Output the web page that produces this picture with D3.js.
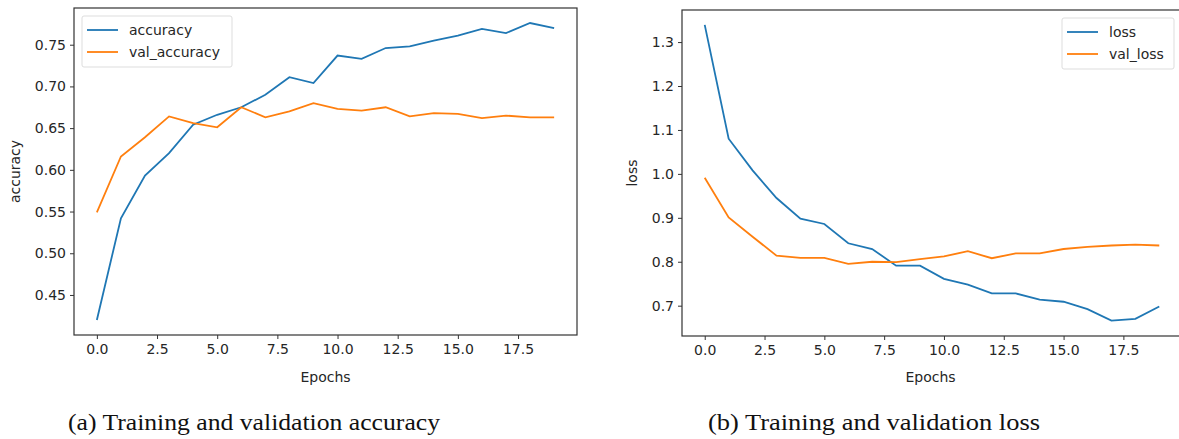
<!DOCTYPE html>
<html>
<head>
<meta charset="utf-8">
<script src="https://cdn.jsdelivr.net/npm/d3@7"></script>
<style>
  body { margin: 0; background: #fff; }
  .tick text { font-family: "DejaVu Sans", sans-serif; font-size: 14px; fill: #262626; }
  .lbl { font-family: "DejaVu Sans", sans-serif; font-size: 14px; fill: #262626; }
  .cap { font-family: "Liberation Serif", "DejaVu Serif", serif; font-size: 24px; fill: #111; }
</style>
</head>
<body>
<div class="container"></div>
<script>
// chart values
var epochs = [0, 1, 2, 3, 4, 5, 6, 7, 8, 9, 10, 11, 12, 13, 14, 15, 16, 17, 18, 19];
var accuracy = [0.420, 0.542, 0.593, 0.620, 0.654, 0.666, 0.675, 0.690, 0.711, 0.704,
                0.737, 0.733, 0.746, 0.748, 0.755, 0.761, 0.769, 0.764, 0.776, 0.770];
var valAccuracy = [0.549, 0.616, 0.639, 0.664, 0.656, 0.651, 0.675, 0.663, 0.670, 0.680,
                   0.673, 0.671, 0.675, 0.664, 0.668, 0.667, 0.662, 0.665, 0.663, 0.663];
var loss = [1.339, 1.080, 1.008, 0.945, 0.898, 0.886, 0.842, 0.829, 0.791, 0.791,
            0.761, 0.748, 0.728, 0.728, 0.714, 0.709, 0.692, 0.666, 0.670, 0.698];
var valLoss = [0.991, 0.901, 0.857, 0.814, 0.809, 0.809, 0.795, 0.800, 0.799, 0.806,
               0.812, 0.824, 0.808, 0.819, 0.819, 0.829, 0.834, 0.837, 0.839, 0.837];

var xTicks = [0, 2.5, 5, 7.5, 10, 12.5, 15, 17.5];
var accTicks = [0.45, 0.50, 0.55, 0.60, 0.65, 0.70, 0.75];
var lossTicks = [0.7, 0.8, 0.9, 1.0, 1.1, 1.2, 1.3];
var accNames = ['accuracy', 'val_accuracy'];
var lossNames = ['loss', 'val_loss'];
var captions = ['(a) Training and validation accuracy', '(b) Training and validation loss'];

const WIDTH = 1179;
const HEIGHT = 439;
const BLUE = '#1f77b4';
const ORANGE = '#ff7f0e';

var translate = function (x, y) {
  return "translate(" + x + "," + y + ")";
};

var _svg;

var drawPanel = function (cfg) {
  var xScale = d3.scaleLinear().domain([-0.95, 19.95]).range([cfg.left, cfg.right]);
  var yScale = d3.scaleLinear().domain(cfg.yDomain).range([cfg.bottom, cfg.top]);

  var line = d3.line()
    .x(function (d, i) { return xScale(epochs[i]); })
    .y(function (d) { return yScale(d); });

  var g = _svg.append('g');

  // frame
  g.append('rect')
    .attr('x', cfg.left).attr('y', cfg.top)
    .attr('width', cfg.right - cfg.left).attr('height', cfg.bottom - cfg.top)
    .attr('fill', 'none').attr('stroke', '#333').attr('stroke-width', 1.2);

  var xAxis = d3.axisBottom(xScale).tickValues(xTicks).tickSize(4).tickPadding(5)
    .tickFormat(d3.format('.1f'));
  var yAxis = d3.axisLeft(yScale).tickValues(cfg.yTicks).tickSize(4).tickPadding(4)
    .tickFormat(cfg.yFormat);

  g.append('g').attr('transform', translate(0, cfg.bottom)).call(xAxis)
    .call(function (a) { a.select('.domain').remove(); a.selectAll('line').attr('stroke', '#333'); });
  g.append('g').attr('transform', translate(cfg.left, 0)).call(yAxis)
    .call(function (a) { a.select('.domain').remove(); a.selectAll('line').attr('stroke', '#333'); });

  g.append('path').attr('d', line(cfg.series[0]))
    .attr('fill', 'none').attr('stroke', BLUE).attr('stroke-width', 1.8);
  g.append('path').attr('d', line(cfg.series[1]))
    .attr('fill', 'none').attr('stroke', ORANGE).attr('stroke-width', 1.8);

  // axis labels
  g.append('text').attr('class', 'lbl')
    .attr('x', (xScale(-0.95) + Math.min(xScale(19.95), WIDTH)) / 2 + cfg.xLabelShift)
    .attr('y', 382).attr('text-anchor', 'middle').text('Epochs');
  g.append('text').attr('class', 'lbl')
    .attr('transform', translate(cfg.yLabelX, (cfg.top + cfg.bottom) / 2) + ' rotate(-90)')
    .attr('text-anchor', 'middle').text(cfg.yLabel);

  // legend
  var lg = g.append('g').attr('transform', translate(cfg.legend.x, cfg.legend.y));
  lg.append('rect').attr('width', cfg.legend.w).attr('height', 51).attr('rx', 2)
    .attr('fill', '#fff').attr('fill-opacity', 0.8).attr('stroke', '#ddd');
  [BLUE, ORANGE].forEach(function (c, i) {
    lg.append('line').attr('x1', 5).attr('x2', 36)
      .attr('y1', 14 + i * 22).attr('y2', 14 + i * 22)
      .attr('stroke', c).attr('stroke-width', 1.8);
    lg.append('text').attr('class', 'lbl').attr('x', 47).attr('y', 19 + i * 22)
      .text(cfg.names[i]);
  });

  // caption
  _svg.append('text').attr('class', 'cap')
    .attr('x', cfg.capX).attr('y', 430)
    .attr('textLength', cfg.capW).attr('lengthAdjust', 'spacingAndGlyphs')
    .text(cfg.caption);
};

var onload = function () {
  _svg = d3.select('.container').append('svg')
    .attr('width', WIDTH)
    .attr('height', HEIGHT);

  drawPanel({
    left: 74, right: 577, top: 8, bottom: 335,
    yDomain: [0.402, 0.794], yTicks: accTicks, yFormat: d3.format('.2f'),
    series: [accuracy, valAccuracy], names: accNames,
    yLabel: 'accuracy', yLabelX: 20, xLabelShift: 0,
    legend: { x: 82, y: 16, w: 150 },
    caption: captions[0], capX: 68, capW: 372
  });

  drawPanel({
    left: 682, right: 1182, top: 10, bottom: 336,
    yDomain: [0.631, 1.373], yTicks: lossTicks, yFormat: d3.format('.1f'),
    series: [loss, valLoss], names: lossNames,
    yLabel: 'loss', yLabelX: 637, xLabelShift: 0,
    legend: { x: 1062, y: 18, w: 112 },
    caption: captions[1], capX: 708, capW: 332
  });
};

window.onload = onload;
</script>
</body>
</html>
